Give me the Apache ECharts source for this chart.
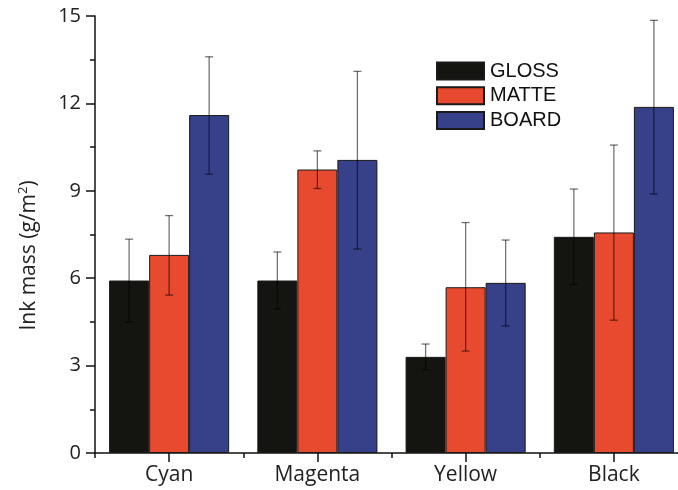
<!DOCTYPE html>
<html>
<head>
<meta charset="utf-8">
<script src="https://cdn.jsdelivr.net/npm/echarts@6/dist/echarts.min.js"></script>
<style>
html,body{margin:0;padding:0;background:#fff;overflow:hidden;}
#chart{width:700px;height:490px;}
</style>
</head>
<body>
<div id="chart"></div>
<script>
var categories = ['Cyan', 'Magenta', 'Yellow', 'Black'];
var seriesNames = ['GLOSS', 'MATTE', 'BOARD'];
var glossValues = [5.92, 5.92, 3.30, 7.42];
var matteValues = [6.80, 9.73, 5.69, 7.57];
var boardValues = [11.60, 10.06, 5.84, 11.88];
var glossErrHigh = [7.34, 6.90, 3.74, 9.06];
var glossErrLow  = [4.50, 4.94, 2.86, 5.78];
var matteErrHigh = [8.15, 10.37, 7.91, 10.57];
var matteErrLow  = [5.42, 9.08, 3.50, 4.56];
var boardErrHigh = [13.60, 13.10, 7.31, 14.85];
var boardErrLow  = [9.57, 7.00, 4.36, 8.89];
var yTicks = [0, 3, 6, 9, 12, 15];

var colors = ['#141511', '#e84a2f', '#36418a'];
var values = [glossValues, matteValues, boardValues];
var errHigh = [glossErrHigh, matteErrHigh, boardErrHigh];
var errLow = [glossErrLow, matteErrLow, boardErrLow];

var BAR_CAT_GAP = 0.19;
function makeErr(si) {
  var data = categories.map(function (c, i) { return [i, errLow[si][i], errHigh[si][i]]; });
  return {
    type: 'custom',
    name: seriesNames[si] + ' err',
    xAxisIndex: 0, yAxisIndex: 0,
    z: 5,
    silent: true,
    data: data,
    encode: { x: 0, y: [1, 2] },
    renderItem: function (params, api) {
      var band = api.size([1, 0])[0];
      var bw = band * (1 - BAR_CAT_GAP) / 3;
      var cx = api.coord([api.value(0), 0])[0] + (si - 1) * bw;
      var lo = api.coord([api.value(0), api.value(1)])[1];
      var hi = api.coord([api.value(0), api.value(2)])[1];
      var cap = 4;
      var st = { stroke: 'rgba(0,0,0,0.55)', lineWidth: 1.3 };
      return {
        type: 'group',
        children: [
          { type: 'line', shape: { x1: cx, y1: lo, x2: cx, y2: hi }, style: st },
          { type: 'line', shape: { x1: cx - cap, y1: hi, x2: cx + cap, y2: hi }, style: st },
          { type: 'line', shape: { x1: cx - cap, y1: lo, x2: cx + cap, y2: lo }, style: st }
        ]
      };
    }
  };
}

var series = [];
for (var s = 0; s < 3; s++) {
  series.push({
    type: 'bar',
    name: seriesNames[s],
    data: values[s],
    barGap: '0%',
    barCategoryGap: (BAR_CAT_GAP * 100) + '%',
    itemStyle: { color: colors[s], borderColor: '#1a1a1a', borderWidth: 1 },
    emphasis: { disabled: true }
  });
}
for (var s2 = 0; s2 < 3; s2++) series.push(makeErr(s2));

var chart = echarts.init(document.getElementById('chart'), null, { renderer: 'canvas' });
chart.setOption({
  animation: false,
  backgroundColor: '#fff',
  grid: { left: 95, width: 593, top: 16, height: 437, containLabel: false },
  legend: {
    data: seriesNames,
    orient: 'vertical',
    left: 436, top: 61,
    padding: 0,
    itemWidth: 47, itemHeight: 17, itemGap: 4.7,
    textStyle: { fontFamily: 'Liberation Sans', fontSize: 20, color: '#111', padding: [0, 0, 0, 1] },
    icon: 'rect',
    selectedMode: false
  },
  xAxis: [{
    type: 'category',
    data: categories,
    axisLine: { lineStyle: { color: '#111', width: 1.5 } },
    axisTick: { show: true, alignWithLabel: false, length: 5, lineStyle: { color: '#111', width: 1.5 } },
    axisLabel: { margin: 12, fontFamily: 'Open Sans', fontSize: 21, color: '#222' },
    splitLine: { show: false }
  }, {
    type: 'category',
    data: categories,
    position: 'bottom',
    axisLine: { show: false },
    axisTick: { show: true, alignWithLabel: true, length: 9, lineStyle: { color: '#111', width: 1.5 } },
    axisLabel: { show: false },
    splitLine: { show: false }
  }],
  yAxis: {
    type: 'value',
    min: 0, max: 15, interval: 3,
    name: 'Ink mass (g/m{sup|2})',
    nameLocation: 'middle',
    nameGap: 54,
    nameRotate: 90,
    nameTextStyle: { fontFamily: 'Open Sans', fontSize: 21, color: '#222', padding: [0, 42, 0, 0],
      rich: { sup: { fontFamily: 'Open Sans', fontSize: 13, verticalAlign: 'top', padding: [0, 0, 11, 0], color: '#222' } } },
    axisLine: { show: true, lineStyle: { color: '#111', width: 1.5 } },
    axisTick: { show: true, length: 9, lineStyle: { color: '#111', width: 1.5 } },
    minorTick: { show: true, splitNumber: 2, length: 5, lineStyle: { color: '#111', width: 1.5 } },
    axisLabel: { margin: 14, fontFamily: 'Open Sans', fontSize: 20, color: '#222',
      formatter: function (v) { return yTicks.indexOf(v) >= 0 ? String(v) : ''; } },
    splitLine: { show: false }
  },
  series: series
});
</script>
</body>
</html>
